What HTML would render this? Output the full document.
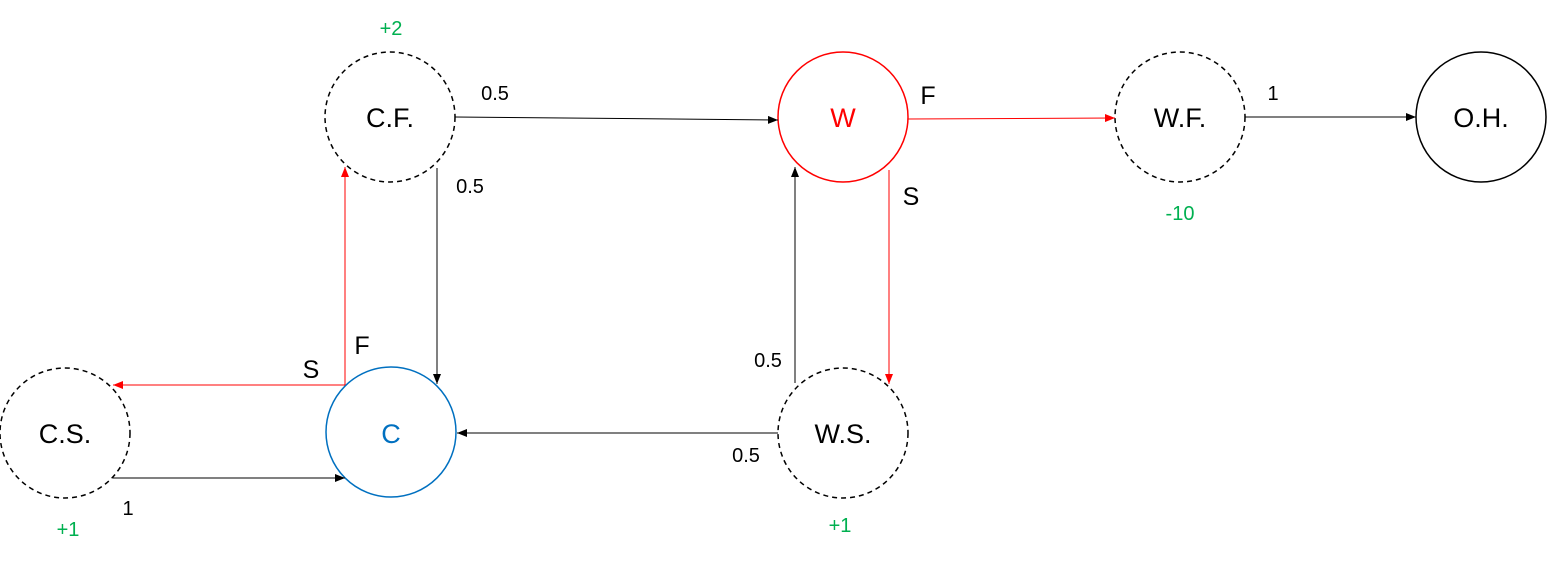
<!DOCTYPE html>
<html><head><meta charset="utf-8"><style>
html,body{margin:0;padding:0;background:#fff;}
svg{display:block;}
text{font-family:"Liberation Sans",sans-serif;}
</style></head><body>
<svg width="1547" height="562" viewBox="0 0 1547 562" xmlns="http://www.w3.org/2000/svg">
<defs>
<marker id="ab" markerWidth="10" markerHeight="8" refX="10" refY="4" orient="auto" markerUnits="userSpaceOnUse"><path d="M0,0 L10,4 L0,8 z" fill="#000"/></marker>
<marker id="ar" markerWidth="10" markerHeight="8" refX="10" refY="4" orient="auto" markerUnits="userSpaceOnUse"><path d="M0,0 L10,4 L0,8 z" fill="#f00"/></marker>
</defs>
<g fill="none" stroke-width="1.5">
<circle cx="390" cy="117" r="65" stroke="#000" stroke-dasharray="5,4"/>
<circle cx="843" cy="117" r="65" stroke="#f00"/>
<circle cx="1180" cy="117" r="65" stroke="#000" stroke-dasharray="5,4"/>
<circle cx="1481" cy="117" r="65" stroke="#000"/>
<circle cx="65" cy="433" r="65" stroke="#000" stroke-dasharray="5,4"/>
<circle cx="391" cy="432" r="65" stroke="#0070c0"/>
<circle cx="843" cy="433" r="65" stroke="#000" stroke-dasharray="5,4"/>
</g>
<g stroke-width="1" fill="none">
<line x1="455" y1="117" x2="778" y2="120" stroke="#000" marker-end="url(#ab)"/>
<line x1="908" y1="119" x2="1115" y2="118" stroke="#f00" marker-end="url(#ar)"/>
<line x1="1245" y1="117" x2="1416" y2="117" stroke="#000" marker-end="url(#ab)"/>
<line x1="437" y1="168" x2="437" y2="384" stroke="#000" marker-end="url(#ab)"/>
<line x1="345" y1="385" x2="345" y2="167" stroke="#f00" marker-end="url(#ar)"/>
<line x1="345" y1="385" x2="113" y2="385" stroke="#f00" marker-end="url(#ar)"/>
<line x1="889" y1="170" x2="889" y2="384" stroke="#f00" marker-end="url(#ar)"/>
<line x1="795" y1="383" x2="795" y2="167" stroke="#000" marker-end="url(#ab)"/>
<line x1="778" y1="433" x2="457" y2="433" stroke="#000" marker-end="url(#ab)"/>
<line x1="113" y1="478" x2="345" y2="478" stroke="#000" marker-end="url(#ab)"/>
</g>
<g font-size="27" text-anchor="middle">
<text x="390" y="127">C.F.</text>
<text x="843" y="127" fill="#f00">W</text>
<text x="1180" y="127">W.F.</text>
<text x="1481" y="127">O.H.</text>
<text x="65" y="443">C.S.</text>
<text x="391" y="443" fill="#0070c0">C</text>
<text x="843" y="443">W.S.</text>
</g>
<g font-size="20" text-anchor="middle">
<text x="391" y="35" fill="#00b050">+2</text>
<text x="495" y="100">0.5</text>
<text x="470" y="193">0.5</text>
<text x="1273" y="100">1</text>
<text x="1180" y="220" fill="#00b050">-10</text>
<text x="768" y="367">0.5</text>
<text x="746" y="462">0.5</text>
<text x="128" y="515">1</text>
<text x="68" y="536" fill="#00b050">+1</text>
<text x="840" y="532" fill="#00b050">+1</text>
</g>
<g font-size="25" text-anchor="middle">
<text x="928" y="104">F</text>
<text x="911" y="205">S</text>
<text x="362" y="354">F</text>
<text x="311" y="378">S</text>
</g>
</svg>
</body></html>
